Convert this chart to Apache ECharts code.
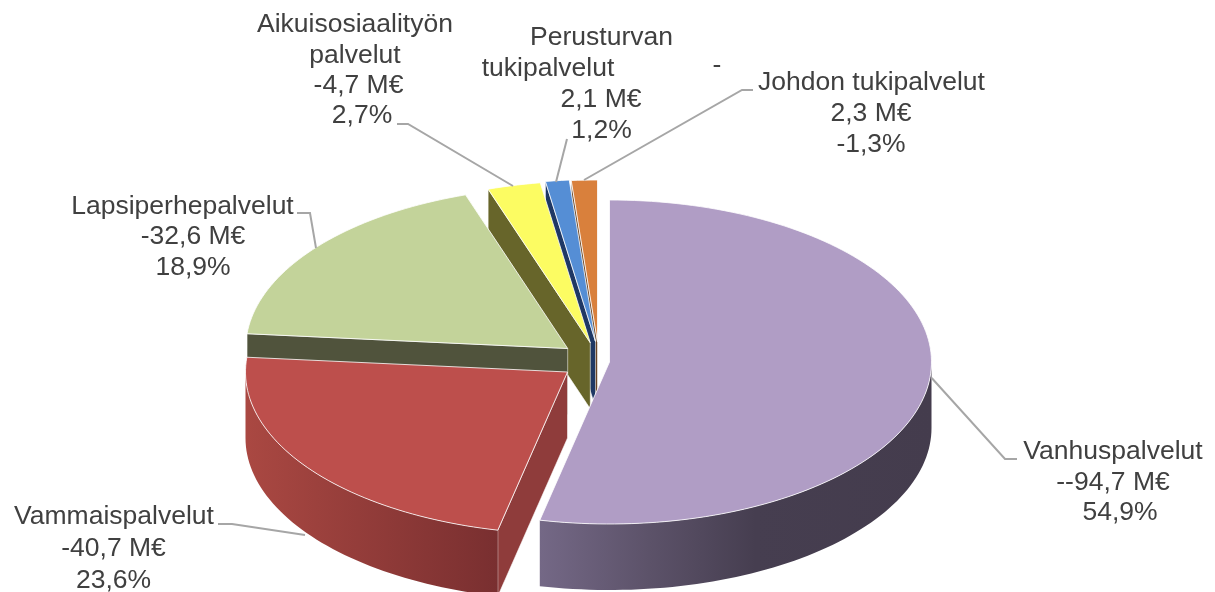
<!DOCTYPE html>
<html><head><meta charset="utf-8">
<style>html,body{margin:0;padding:0;background:#fff}#c{width:1215px;height:592px}</style>
<script src="https://cdn.jsdelivr.net/npm/echarts@6/dist/echarts.min.js"></script>
</head><body><div id="c"></div>
<script>
// ---- data ----
const categories = ['Vanhuspalvelut','Vammaispalvelut','Lapsiperhepalvelut','Aikuisosiaalityön palvelut','Perusturvan tukipalvelut','Johdon tukipalvelut'];
const values = [94.7, 40.7, 32.6, 4.7, 2.1, 2.3];
const euroLabels = ['--94,7 M€','-40,7 M€','-32,6 M€','-4,7 M€','2,1 M€','2,3 M€'];
const percentLabels = ['54,9%','23,6%','18,9%','2,7%','1,2%','-1,3%'];

// ---- style / layout ----
const topColors  = ['#b09dc5','#bd4f4c','#c3d39a','#fcfc62','#558ed5','#d9803c'];
const startWall  = ['#5b5168','#8f3c3b','#50533c','#67652a','#1f3864','#6b4524'];
const outerWall  = [
  [[0,'#746886'],[0.28,'#5c5269'],[0.55,'#463e50'],[1,'#443c4d']],
  [[0,'#aa4842'],[1,'#792f30']],
  [[0,'#50533c'],[1,'#50533c']],
  [[0,'#67652a'],[1,'#67652a']],
  [[0,'#1f3864'],[1,'#1f3864']],
  [[0,'#6b4524'],[1,'#6b4524']]
];
const apex = [[609.5,362],[567.5,372],[567.7,348.5],[590.3,342.8],[595.5,341.5],[597.5,342]];
const paintOrder = [5,4,3,2,0,1];
const RX = 322, RY = 162, DEPTH = 66;
const FONT = 26.5, TEXT = '#404040', LEADER = '#a6a6a6';

const total = values.reduce((s,v)=>s+v,0);
const starts = []; let acc = 0;
values.forEach(v=>{starts.push(acc); acc += v/total*360;});
const rim = (c,deg,dy)=>{const t=deg*Math.PI/180;return [c[0]+RX*Math.sin(t), c[1]-RY*Math.cos(t)+(dy||0)];};
function arc(c,a0,a1,dy){const n=Math.max(2,Math.ceil((a1-a0)/1.5));const p=[];for(let k=0;k<=n;k++)p.push(rim(c,a0+(a1-a0)*k/n,dy));return p;}

function renderSlice(params, api){
  const i = api.value(0), v = api.value(1);
  const a0 = starts[i], a1 = a0 + v/total*360, c = apex[i];
  const kids = [];
  // start-side cut wall (faces the viewer past 180 degrees)
  if (a0 > 180 && a0 < 360){
    const r = rim(c,a0);
    kids.push({type:'polygon',shape:{points:[c,r,[r[0],r[1]+DEPTH],[c[0],c[1]+DEPTH]]},
      style:{fill:startWall[i],stroke:'rgba(255,255,255,0.55)',lineWidth:1}});
  }
  // outer wall (front half only)
  const w0 = Math.max(a0,90), w1 = Math.min(a1,270);
  if (w1 > w0){
    const pts = arc(c,w0,w1,0).concat(arc(c,w0,w1,DEPTH).reverse());
    kids.push({type:'polygon',shape:{points:pts},
      style:{fill:{type:'linear',x:0,y:0,x2:1,y2:0,global:false,
        colorStops:outerWall[i].map(s=>({offset:s[0],color:s[1]}))}}});
  }
  // top face
  kids.push({type:'polygon',shape:{points:[c].concat(arc(c,a0,a1,0))},
    style:{fill:topColors[i],stroke:'rgba(255,255,255,0.8)',lineWidth:1}});
  return {type:'group',children:kids};
}

// label lines: [text, centre x, centre y]
const labelLines = [
  [categories[0],1113,452],[euroLabels[0],1113,483],[percentLabels[0],1120,513],
  [categories[1],114,517],[euroLabels[1],113.5,549],[percentLabels[1],113.5,581],
  [categories[2],182.5,207],[euroLabels[2],193,237],[percentLabels[2],193,268],
  ['Aikuisosiaalityön',355,25],['palvelut',355,56],[euroLabels[3],358.5,86],[percentLabels[3],362,116],
  ['Perusturvan',601.5,38],['tukipalvelut',548,69],['-',717,66],[euroLabels[4],601,100],[percentLabels[4],601.5,131],
  [categories[5],871.5,83],[euroLabels[5],871,114],[percentLabels[5],871,145]
];
const leaderLines = [
  [[931.7,378],[1005,459],[1017,459]],
  [[218,524],[232,524],[305,535]],
  [[297,213],[310,213],[316,248]],
  [[397,124],[408,124],[513,186]],
  [[567,139],[556,182]],
  [[753,90],[742,90],[584,180]]
];

const chart = echarts.init(document.getElementById('c'),null,{renderer:'canvas'});
chart.setOption({
  animation:false,
  backgroundColor:'#fff',
  series:[{
    type:'custom',coordinateSystem:'none',silent:true,clip:false,
    renderItem:renderSlice,
    data:paintOrder.map(i=>[i,values[i]])
  }],
  graphic:[
    ...leaderLines.map(p=>({type:'polyline',z:50,shape:{points:p},style:{stroke:LEADER,lineWidth:2,fill:'none'}})),
    ...labelLines.map(l=>({type:'text',z:60,x:l[1],y:l[2],style:{text:l[0],fill:TEXT,
      font:FONT+'px "Liberation Sans", Arial, sans-serif',textAlign:'center',textVerticalAlign:'middle'}}))
  ]
});
</script></body></html>
